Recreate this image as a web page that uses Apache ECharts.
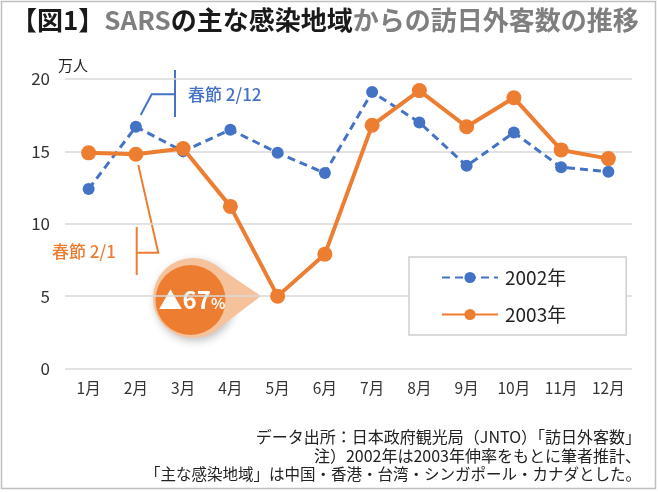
<!DOCTYPE html>
<html><head><meta charset="utf-8">
<script src="https://cdn.jsdelivr.net/npm/echarts@6/dist/echarts.min.js"></script>
<style>html,body{margin:0;padding:0;background:#fff}#c{width:658px;height:492px}</style>
</head><body><div id="c"></div>
<script>
const months = ['1月','2月','3月','4月','5月','6月','7月','8月','9月','10月','11月','12月'];
const v2002 = [12.4, 16.7, 15.0, 16.5, 14.9, 13.5, 19.1, 17.0, 14.0, 16.3, 13.9, 13.6];
const v2003 = [14.9, 14.8, 15.2, 11.2, 5.0, 7.9, 16.8, 19.2, 16.7, 18.7, 15.1, 14.5];
const seriesNames = ['2002年', '2003年'];
const yTicks = [0, 5, 10, 15, 20];

const FONT = '"Noto Sans CJK JP", "Noto Sans", sans-serif';
const BLUE = '#4472C4', ORANGE = '#ED7D31';
const chart = echarts.init(document.getElementById('c'), null, {renderer: 'canvas'});

chart.setOption({
  backgroundColor: '#fff',
  animation: false,
  textStyle: {fontFamily: FONT},
  grid: {left: 65, right: 26, top: 79, bottom: 123.5, containLabel: false},
  legend: {
    orient: 'vertical', left: 409, top: 257, width: 199,
    padding: [11, 60, 11, 32], itemGap: 18, itemWidth: 56, itemHeight: 14,
    backgroundColor: '#fff', borderColor: '#d0d0d0', borderWidth: 1.5,
    textStyle: {fontFamily: FONT, fontSize: 19, color: '#222', padding: [0,0,0,2]},
    data: seriesNames
  },
  xAxis: {
    type: 'category', data: months, boundaryGap: true,
    axisLine: {show: false}, axisTick: {show: false},
    axisLabel: {fontFamily: FONT, fontSize: 15.5, color: '#333', margin: 12}
  },
  yAxis: {
    type: 'value', min: yTicks[0], max: yTicks[yTicks.length-1], interval: 5,
    axisLine: {show: false}, axisTick: {show: false},
    axisLabel: {fontFamily: FONT, fontSize: 17, color: '#333', margin: 15},
    splitLine: {lineStyle: {color: '#d9d9d9', width: 1.5}}
  },
  series: [
    {name: seriesNames[0], type: 'line', data: v2002, symbol: 'circle', symbolSize: 12,
     itemStyle: {color: BLUE}, lineStyle: {color: BLUE, width: 3, type: [8, 5]}, z: 3},
    {name: seriesNames[1], type: 'line', data: v2003, symbol: 'circle', symbolSize: 15,
     itemStyle: {color: ORANGE}, lineStyle: {color: ORANGE, width: 4}, z: 4}
  ],
  graphic: [
    {type: 'rect', shape: {x: 1.5, y: 1.5, width: 654, height: 487}, style: {fill: 'none', stroke: '#c0c0c0', lineWidth: 1.5}, silent: true, z: 0},
    {type: 'text', left: 11, top: 7, style: {
      text: '{k|【図1】}{g|SARS}{k|の主な感染地域}{g|からの訪日外客数の推移}',
      rich: {
        k: {fontFamily: FONT, fontSize: 26, fontWeight: 'bold', fill: '#1a1a1a'},
        g: {fontFamily: FONT, fontSize: 26, fontWeight: 'bold', fill: '#7f7f7f'}
      }}},
    {type: 'text', x: 58, y: 58, style: {text: '万人', fontFamily: FONT, fontSize: 15, fill: '#222'}},
    // blue annotation
    {type: 'polyline', shape: {points: [[175, 70], [175, 117]]}, style: {stroke: BLUE, lineWidth: 2}},
    {type: 'polyline', shape: {points: [[175, 94.3], [151.7, 94.3], [140.7, 115]]}, style: {stroke: BLUE, lineWidth: 2, fill: null}},
    {type: 'text', x: 188, y: 95, style: {text: '春節 2/12', fontFamily: FONT, fontSize: 17, fontWeight: 500, fill: BLUE, verticalAlign: 'middle'}},
    // orange annotation
    {type: 'polyline', shape: {points: [[136.7, 227], [136.7, 275]]}, style: {stroke: ORANGE, lineWidth: 2}},
    {type: 'polyline', shape: {points: [[136.7, 252.7], [158.3, 252.7], [138.3, 165]]}, style: {stroke: ORANGE, lineWidth: 2, fill: null}},
    {type: 'text', x: 52, y: 252, style: {text: '春節 2/1', fontFamily: FONT, fontSize: 17, fontWeight: 500, fill: ORANGE, verticalAlign: 'middle'}},
    // callout bubble
    {type: 'group', z: 10, children: [
      {type: 'circle', shape: {cx: 193, cy: 298, r: 40}, style: {fill: '#F5C29C', shadowBlur: 8, shadowColor: 'rgba(0,0,0,0.25)', shadowOffsetX: 2, shadowOffsetY: 3}},
      {type: 'polygon', shape: {points: [[193, 298], [215, 265], [261, 296], [215, 331]]}, style: {fill: '#F5C29C'}},
      {type: 'circle', shape: {cx: 193, cy: 298, r: 39.5}, style: {fill: '#F5C29C'}},
      {type: 'circle', shape: {cx: 190.5, cy: 300, r: 35}, style: {fill: ORANGE}},
      {type: 'text', x: 192, y: 300, style: {
        text: '{a|▲67}{b|%}', align: 'center', verticalAlign: 'middle',
        rich: {
          a: {fontFamily: FONT, fontSize: 24, fontWeight: 'bold', fill: '#fff'},
          b: {fontFamily: FONT, fontSize: 15, fontWeight: 'bold', fill: '#fff', padding: [6, 0, 0, 0]}
        }}}
    ]},
    // footnote
    {type: 'text', x: 641, y: 437, style: {text: 'データ出所：日本政府観光局（JNTO）「訪日外客数」', align: 'right', verticalAlign: 'middle', fontFamily: FONT, fontSize: 16, fill: '#222'}},
    {type: 'text', x: 641, y: 456, style: {text: '注）2002年は2003年伸率をもとに筆者推計、', align: 'right', verticalAlign: 'middle', fontFamily: FONT, fontSize: 16, fill: '#222'}},
    {type: 'text', x: 641, y: 474, style: {text: '「主な感染地域」は中国・香港・台湾・シンガポール・カナダとした。', align: 'right', verticalAlign: 'middle', fontFamily: FONT, fontSize: 15.5, fill: '#222'}}
  ]
});
</script></body></html>
